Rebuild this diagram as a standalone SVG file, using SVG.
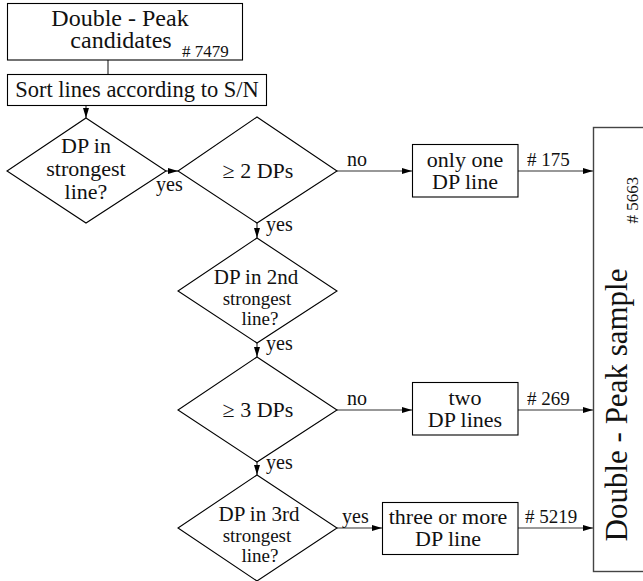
<svg xmlns="http://www.w3.org/2000/svg" width="643" height="581" viewBox="0 0 643 581" font-family="'Liberation Serif', 'DejaVu Serif', serif">
<defs>
<marker id="arr" viewBox="0 0 10 6" refX="10" refY="3" markerWidth="10" markerHeight="6" markerUnits="userSpaceOnUse" orient="auto">
<path d="M0,0 L10,3 L0,6 z" fill="#000"/>
</marker>
</defs>
<style>
text{font-family:'Liberation Serif','DejaVu Serif',serif;fill:#111;}
.shape{fill:#fff;stroke:#000;stroke-width:1.1;}
.big{fill:#fff;stroke:#444;stroke-width:1.4;}
.con{fill:none;stroke:#333;stroke-width:1.2;}
.arw{marker-end:url(#arr);}
.t22{font-size:22px;text-anchor:middle;}
.t21{font-size:21px;text-anchor:middle;}
.t19{font-size:19px;text-anchor:middle;}
.lab{font-size:20px;}
.num{font-size:19px;}
</style>
<rect width="643" height="581" fill="#fff"/>

<g id="connectors">
<line class="con" x1="108" y1="60" x2="108" y2="74"/>
<line class="con arw" x1="86" y1="106" x2="86" y2="118"/>
<line class="con arw" x1="166" y1="171" x2="178" y2="171"/>
<line class="con arw" x1="337" y1="171" x2="412" y2="171"/>
<line class="con arw" x1="518" y1="171" x2="593" y2="171"/>
<line class="con arw" x1="257" y1="223" x2="257" y2="238"/>
<line class="con arw" x1="257" y1="343" x2="257" y2="357"/>
<line class="con arw" x1="337" y1="410" x2="412" y2="410"/>
<line class="con arw" x1="518" y1="410" x2="593" y2="410"/>
<line class="con arw" x1="257" y1="462" x2="257" y2="475"/>
<line class="con arw" x1="337" y1="528" x2="382" y2="528"/>
<line class="con arw" x1="518" y1="528" x2="593" y2="528"/>
<text class="lab" x="156" y="191">yes</text>
<text class="lab" x="347" y="166">no</text>
<text class="num" x="527" y="166"># 175</text>
<text class="lab" x="266" y="231">yes</text>
<text class="lab" x="266" y="350">yes</text>
<text class="lab" x="347" y="405">no</text>
<text class="num" x="527" y="405"># 269</text>
<text class="lab" x="266" y="469">yes</text>
<text class="lab" x="342" y="523">yes</text>
<text class="num" x="525" y="523"># 5219</text>
</g>

<g id="candidates">
<rect class="shape" x="7.5" y="3.5" width="235" height="56.5"/>
<text x="120" y="26" style="font-size:24px;text-anchor:middle">Double - Peak</text>
<text x="121" y="48" style="font-size:24px;text-anchor:middle">candidates</text>
<text x="182" y="57" style="font-size:17px"># 7479</text>
</g>

<g id="sort">
<rect class="shape" x="7.5" y="74.5" width="259" height="31"/>
<text x="137" y="97" style="font-size:22.5px;text-anchor:middle">Sort lines according to S/N</text>
</g>

<g id="dp-strongest">
<polygon class="shape" points="86,118 166,171 86,223 7,171"/>
<text class="t22" x="86" y="153">DP in</text>
<text class="t22" x="86" y="176">strongest</text>
<text class="t22" x="86" y="199">line?</text>
</g>

<g id="ge2">
<polygon class="shape" points="257,117 337,171 257,223 178,171"/>
<text class="t22" x="258" y="178">≥ 2 DPs</text>
</g>

<g id="one-dp">
<rect class="shape" x="412.5" y="144.5" width="105.5" height="52.5"/>
<text class="t22" x="465" y="167">only one</text>
<text class="t22" x="465" y="189">DP line</text>
</g>

<g id="dp-2nd">
<polygon class="shape" points="257,238 337,291 257,343 178,291"/>
<text class="t21" x="256" y="284">DP in 2nd</text>
<text class="t19" x="257" y="305">strongest</text>
<text class="t19" x="260" y="325">line?</text>
</g>

<g id="ge3">
<polygon class="shape" points="257,357 337,410 257,462 178,410"/>
<text class="t22" x="258" y="417">≥ 3 DPs</text>
</g>

<g id="two-dp">
<rect class="shape" x="412.5" y="382.5" width="105.5" height="52.5"/>
<text class="t22" x="465" y="405">two</text>
<text class="t22" x="465" y="427">DP lines</text>
</g>

<g id="dp-3rd">
<polygon class="shape" points="257,475 337,528 257,581 178,528"/>
<text class="t21" x="259" y="521">DP in 3rd</text>
<text class="t19" x="257" y="542">strongest</text>
<text class="t19" x="260" y="562">line?</text>
</g>

<g id="three-dp">
<rect class="shape" x="382.5" y="502.5" width="135.5" height="52"/>
<text class="t22" x="448" y="524">three or more</text>
<text class="t22" x="448" y="546">DP line</text>
</g>

<g id="sample">
<rect class="big" x="593.5" y="127.5" width="60" height="444"/>
<text transform="translate(627,405) rotate(-90)" style="font-size:31px;text-anchor:middle">Double - Peak sample</text>
<text transform="translate(638,200) rotate(-90)" style="font-size:17px;text-anchor:middle"># 5663</text>
</g>
</svg>
